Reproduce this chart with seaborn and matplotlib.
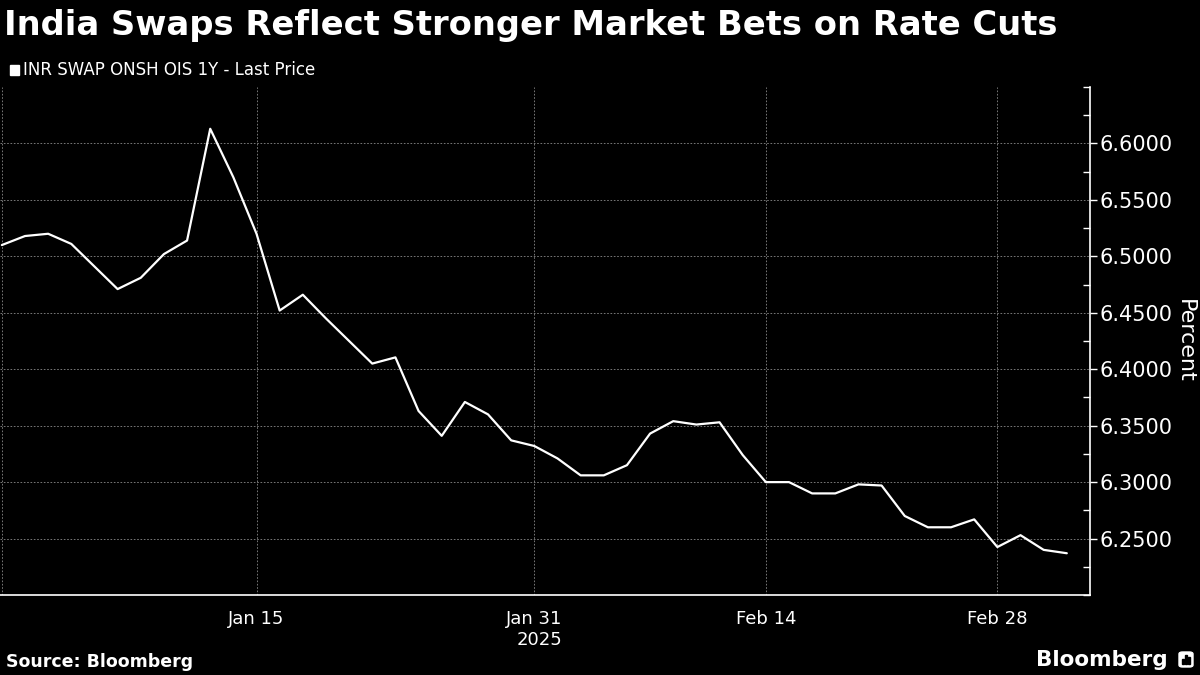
import matplotlib
matplotlib.use("Agg")
import matplotlib.pyplot as plt
import matplotlib.ticker as mticker
from matplotlib.patches import Rectangle, FancyBboxPatch
import seaborn as sns
import numpy as np
import pandas as pd

# INR SWAP ONSH OIS 1Y - last price, business days from Dec 31 2024
dates = pd.bdate_range("2024-12-31", periods=47)
rates = [6.510, 6.518, 6.520, 6.511, 6.491, 6.471, 6.481, 6.502, 6.514, 6.613,
         6.570, 6.520, 6.452, 6.466, 6.445, 6.425, 6.405, 6.4105, 6.363, 6.341,
         6.371, 6.360, 6.337, 6.332, 6.321, 6.306, 6.306, 6.315, 6.343, 6.354,
         6.351, 6.353, 6.324, 6.300, 6.300, 6.290, 6.290, 6.298, 6.297, 6.270,
         6.260, 6.260, 6.267, 6.2425, 6.253, 6.240, 6.237]
tick_dates = ["2025-01-15", "2025-01-31", "2025-02-14", "2025-02-28"]
tick_labels = ["Jan 15", "Jan 31\n2025", "Feb 14", "Feb 28"]
minor_dates = ["2025-01-08", "2025-01-23", "2025-02-07", "2025-02-21"]
y_major = [6.25, 6.30, 6.35, 6.40, 6.45, 6.50, 6.55, 6.60]
y_minor = [6.20, 6.225, 6.275, 6.325, 6.375, 6.425, 6.475, 6.525, 6.575, 6.625, 6.65]

df = pd.DataFrame({"pos": np.arange(len(rates)), "date": dates, "rate": rates})
pos_of = {d.strftime("%Y-%m-%d"): i for i, d in enumerate(dates)}

sns.set_theme(style="dark", rc={
    "figure.facecolor": "black", "axes.facecolor": "black",
    "text.color": "white", "axes.labelcolor": "white",
    "xtick.color": "white", "ytick.color": "white",
    "axes.edgecolor": "white",
})
plt.rcParams["font.family"] = ["DejaVu Sans"]

fig = plt.figure(figsize=(12, 6.75), dpi=100)
ax = fig.add_axes([0.0, 0.1185, 0.9083, 0.7526])

sns.lineplot(data=df, x="pos", y="rate", color="white", linewidth=1.6, ax=ax)

ax.set_xlim(-0.08, 47.0)
ax.set_ylim(6.20, 6.65)

# x axis
ax.set_xticks([0] + [pos_of[d] for d in tick_dates])
ax.set_xticklabels([""] + tick_labels, fontsize=13)
for lab in ax.get_xticklabels():
    lab.set_multialignment("right")
ax.set_xticks([pos_of[d] for d in minor_dates], minor=True)
ax.tick_params(axis="x", which="both", length=5, width=1, direction="out", pad=6)

# y axis on the right
ax.yaxis.tick_right()
ax.yaxis.set_major_locator(mticker.FixedLocator(y_major))
ax.yaxis.set_minor_locator(mticker.FixedLocator(y_minor))
ax.yaxis.set_major_formatter(mticker.FormatStrFormatter("%.4f"))
ax.tick_params(axis="y", which="major", length=5, width=1, direction="out", labelsize=15, pad=2)
ax.tick_params(axis="y", which="minor", length=5, width=1, direction="in")
ax.set_ylabel("")
ax.set_xlabel("")
ax.text(1.0872, 0.5, "Percent", transform=ax.transAxes, rotation=-90,
        fontsize=16, color="white", ha="center", va="center")

for side in ["top", "left"]:
    ax.spines[side].set_visible(False)
for side in ["right", "bottom"]:
    ax.spines[side].set_color("white")
    ax.spines[side].set_linewidth(1.2)

ax.grid(True, which="major", color="#8a8a8a", linestyle=(0, (2, 2)), linewidth=0.6)

# title, legend, footer
fig.text(0.003, 0.962, "India Swaps Reflect Stronger Market Bets on Rate Cuts",
         fontsize=24.3, fontweight="bold", color="white", va="center", ha="left")
fig.add_artist(Rectangle((10 / 1200, 1 - 75 / 675), 9 / 1200, 10 / 675,
                         transform=fig.transFigure, color="white"))
fig.text(23 / 1200, 1 - 70 / 675, "INR SWAP ONSH OIS 1Y - Last Price",
         fontsize=12, color="white", va="center", ha="left")
fig.text(6 / 1200, 1 - 662 / 675, "Source: Bloomberg",
         fontsize=12.5, fontweight="bold", color="white", va="center", ha="left")
fig.text(1168 / 1200, 1 - 660 / 675, "Bloomberg",
         fontsize=15.5, fontweight="bold", color="white", va="center", ha="right")
fig.add_artist(FancyBboxPatch((1179 / 1200, 1 - 667 / 675), 14 / 1200, 15 / 675,
                              boxstyle="round,pad=0,rounding_size=0.003",
                              transform=fig.transFigure, color="white"))
for bx, bh in [(1182, 5), (1185, 9), (1188, 7)]:
    fig.add_artist(Rectangle((bx / 1200, 1 - 664 / 675), 1.5 / 1200, bh / 675,
                             transform=fig.transFigure, color="black"))

fig.savefig("out.png", dpi=100, facecolor="black")
